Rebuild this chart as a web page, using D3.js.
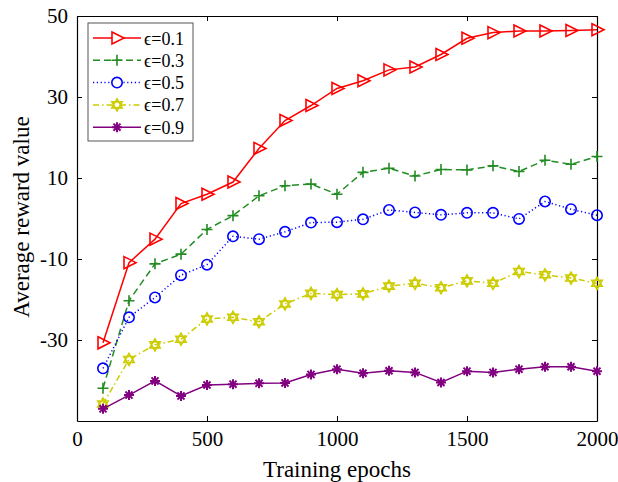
<!DOCTYPE html>
<html>
<head>
<meta charset="utf-8">
<script src="https://cdn.jsdelivr.net/npm/d3@7"></script>
<style>
	body { margin: 0; background: #fff; }
	text { font-family: 'Liberation Serif', 'Times New Roman', serif; fill: #000; }
</style>
</head>
<body>
<script>
// training epochs on the x axis
var epochs = [100, 200, 300, 400, 500, 600, 700, 800, 900, 1000,
	1100, 1200, 1300, 1400, 1500, 1600, 1700, 1800, 1900, 2000];

// average reward for each epsilon
var eps01 = [-30.7, -10.9, -5.1, 3.7, 6.0, 9.0, 17.3, 24.2, 27.9, 32.1,
	34.0, 36.7, 37.4, 40.5, 44.5, 45.9, 46.3, 46.3, 46.4, 46.6];
var eps03 = [-41.9, -20.3, -11.2, -8.8, -2.7, 0.7, 5.6, 8.1, 8.5, 6.0,
	11.4, 12.4, 10.5, 12.1, 12.0, 13.0, 11.6, 14.4, 13.4, 15.3];
var eps05 = [-37.0, -24.4, -19.5, -14.0, -11.4, -4.4, -5.1, -3.3, -1.0, -0.9,
	-0.2, 2.1, 1.5, 0.9, 1.4, 1.4, -0.1, 4.2, 2.3, 0.8];
var eps07 = [-45.8, -34.8, -31.2, -29.8, -24.8, -24.4, -25.5, -21.1, -18.5, -18.8,
	-18.6, -16.7, -16.0, -17.1, -15.4, -16.0, -13.1, -13.9, -14.7, -16.0];
var eps09 = [-47.0, -43.6, -40.1, -43.8, -41.1, -40.9, -40.7, -40.6, -38.5, -37.2,
	-38.2, -37.6, -38.0, -40.5, -37.7, -38.0, -37.2, -36.6, -36.6, -37.7];

var seriesNames = ['\u03f5=0.1', '\u03f5=0.3', '\u03f5=0.5', '\u03f5=0.7', '\u03f5=0.9'];
var xTicks = [0, 500, 1000, 1500, 2000];
var yTicks = [-30, -10, 10, 30, 50];

var width = 618,
	height = 482,
	margin = {top: 16, right: 21, bottom: 61, left: 77};

var svg = d3.select('body').append('svg')
	.attr('width', width)
	.attr('height', height);

var w = width - margin.left - margin.right,
	h = height - margin.top - margin.bottom;

var xScale = d3.scaleLinear().domain([0, 2000]).range([0, w]),
	yScale = d3.scaleLinear().domain([-50, 50]).range([h, 0]);

// plain numbers, hyphen for minus
var fmt = function(d) { return String(d); };

var g = svg.append('g')
	.attr('transform', 'translate(' + margin.left + ',' + margin.top + ')');

// style per series: colour, dash pattern, marker
var styles = [
	{color: '#ff0000', dash: null, marker: 'tri'},
	{color: '#228b22', dash: '7,4', marker: 'plus'},
	{color: '#0000ff', dash: '1.2,2.6', marker: 'circle'},
	{color: '#cccc00', dash: '6,3,1.5,3', marker: 'hex'},
	{color: '#800080', dash: null, marker: 'star'}
];
var allSeries = [eps01, eps03, eps05, eps07, eps09];

// marker paths centered at 0,0
function markerPath(type) {
	var p = d3.path();
	if (type === 'tri') {
		p.moveTo(-5, -6); p.lineTo(7, 0); p.lineTo(-5, 6); p.closePath();
	} else if (type === 'plus') {
		p.moveTo(-5.5, 0); p.lineTo(5.5, 0); p.moveTo(0, -5.5); p.lineTo(0, 5.5);
	} else if (type === 'circle') {
		p.arc(0, 0, 5.2, 0, 2 * Math.PI);
	} else if (type === 'hex') {
		var r = 6;
		[-90, 90].forEach(function(a0) {
			for (var i = 0; i < 3; i++) {
				var a = (a0 + i * 120) * Math.PI / 180;
				if (i === 0) p.moveTo(r * Math.cos(a), r * Math.sin(a));
				else p.lineTo(r * Math.cos(a), r * Math.sin(a));
			}
			p.closePath();
		});
	} else if (type === 'star') {
		for (var i = 0; i < 4; i++) {
			var a = i * Math.PI / 4, r2 = 5;
			p.moveTo(-r2 * Math.cos(a), -r2 * Math.sin(a));
			p.lineTo(r2 * Math.cos(a), r2 * Math.sin(a));
		}
	}
	return p.toString();
}

// axes: bottom/left with labels, top/right with ticks only
g.append('g')
	.attr('class', 'axis')
	.attr('transform', 'translate(0,' + h + ')')
	.call(d3.axisBottom(xScale).tickValues(xTicks).tickFormat(fmt).tickSizeInner(-5).tickSizeOuter(0).tickPadding(10));
g.append('g')
	.attr('class', 'axis')
	.call(d3.axisTop(xScale).tickValues(xTicks).tickSizeInner(-5).tickSizeOuter(0).tickFormat(''));
g.append('g')
	.attr('class', 'axis')
	.call(d3.axisLeft(yScale).tickValues(yTicks).tickFormat(fmt).tickSizeInner(-5).tickSizeOuter(0).tickPadding(9));
g.append('g')
	.attr('class', 'axis')
	.attr('transform', 'translate(' + w + ',0)')
	.call(d3.axisRight(yScale).tickValues(yTicks).tickSizeInner(-5).tickSizeOuter(0).tickFormat(''));

g.selectAll('.axis path').attr('stroke', '#000').attr('stroke-width', 1.2);
g.selectAll('.axis line').attr('stroke', '#000');
g.selectAll('.axis text')
	.style('font-family', "'Liberation Serif', serif")
	.style('font-size', '21px');

var line = d3.line()
	.x(function(d, i) { return xScale(epochs[i]); })
	.y(function(d) { return yScale(d); });

allSeries.forEach(function(vals, k) {
	var s = styles[k];
	g.append('path')
		.datum(vals)
		.attr('fill', 'none')
		.attr('stroke', s.color)
		.attr('stroke-width', 1.5)
		.attr('stroke-dasharray', s.dash)
		.attr('d', line);
	g.selectAll('.m' + k)
		.data(vals)
		.enter().append('path')
		.attr('class', 'm' + k)
		.attr('transform', function(d, i) {
			return 'translate(' + xScale(epochs[i]) + ',' + yScale(d) + ')';
		})
		.attr('d', markerPath(s.marker))
		.attr('fill', 'none')
		.attr('stroke', s.color)
		.attr('stroke-width', s.marker === 'star' ? 2 : 1.6);
});

// axis titles
svg.append('text')
	.attr('x', margin.left + w / 2)
	.attr('y', 477)
	.attr('text-anchor', 'middle')
	.style('font-size', '23px')
	.text('Training epochs');
svg.append('text')
	.attr('transform', 'translate(29,' + 217 + ') rotate(-90)')
	.attr('text-anchor', 'middle')
	.style('font-size', '23px')
	.text('Average reward value');

// legend
var legend = svg.append('g').attr('transform', 'translate(88,23)');
legend.append('rect')
	.attr('width', 105)
	.attr('height', 118)
	.attr('fill', '#fff')
	.attr('stroke', '#555')
	.attr('stroke-width', 1);
seriesNames.forEach(function(name, k) {
	var s = styles[k],
		y = 15 + k * 22.3;
	legend.append('line')
		.attr('x1', 5).attr('x2', 53)
		.attr('y1', y).attr('y2', y)
		.attr('stroke', s.color)
		.attr('stroke-width', 1.5)
		.attr('stroke-dasharray', s.dash);
	legend.append('path')
		.attr('transform', 'translate(29,' + y + ')')
		.attr('d', markerPath(s.marker))
		.attr('fill', '#fff')
		.attr('stroke', s.color)
		.attr('stroke-width', s.marker === 'star' ? 2 : 1.6);
	legend.append('text')
		.attr('x', 56)
		.attr('y', y + 6.5)
		.style('font-size', '18px')
		.text(name);
});
</script>
</body>
</html>
